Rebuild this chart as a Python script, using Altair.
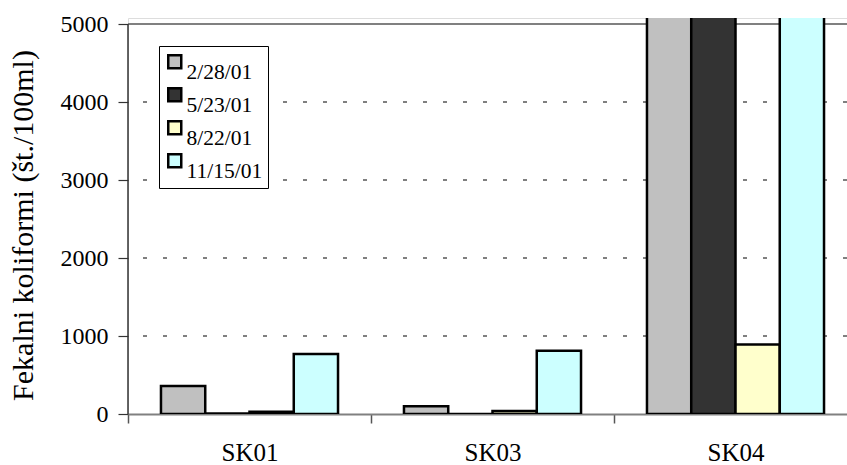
import altair as alt
import pandas as pd

# Sampling sites and campaign dates
sites = ["SK01", "SK03", "SK04"]
dates = ["2/28/01", "5/23/01", "8/22/01", "11/15/01"]
date_colors = ["#C0C0C0", "#333333", "#FFFFCC", "#CCFFFF"]

# Faecal coliform counts (per 100 ml) for each date, one list per site
sk01 = [360, 8, 30, 770]
sk03 = [100, 0, 40, 810]
sk04 = [9200, 13500, 890, 7800]

grid_levels = [1000, 2000, 3000, 4000]
y_ticks = [0, 1000, 2000, 3000, 4000, 5000]

rows = []
for site, vals in zip(sites, [sk01, sk03, sk04]):
    for d, v in zip(dates, vals):
        rows.append({"site": site, "date": d, "count": v})
df = pd.DataFrame(rows)

FONT = "Liberation Serif"
y_scale = alt.Scale(domain=[0, 5077], nice=False, zero=True)

grid = alt.Chart(pd.DataFrame({"level": grid_levels})).mark_rule(
    color="#000000", strokeDash=[4, 16], strokeWidth=1
).encode(y=alt.Y("level:Q", scale=y_scale, axis=None))

top_line = alt.Chart(pd.DataFrame({"level": [5000]})).mark_rule(
    color="#808080", strokeWidth=2
).encode(y=alt.Y("level:Q", scale=y_scale, axis=None))

bars = alt.Chart(df).mark_bar(stroke="black", strokeWidth=2.5, clip=True).encode(
    x=alt.X(
        "site:N",
        sort=sites,
        scale=alt.Scale(range=[0, 729], paddingInner=0, paddingOuter=0),
        axis=alt.Axis(
            title=None,
            tickBand="extent",
            tickSize=9,
            tickColor="#555555",
            tickWidth=1.5,
            domainColor="#808080",
            domainWidth=2,
            labelFont=FONT,
            labelFontSize=25,
            labelColor="black",
            labelPadding=17,
            labelAngle=0,
        ),
    ),
    xOffset=alt.XOffset(
        "date:N", sort=dates, scale=alt.Scale(paddingInner=0, paddingOuter=0.745)
    ),
    y=alt.Y(
        "count:Q",
        scale=y_scale,
        axis=alt.Axis(
            values=y_ticks,
            format="d",
            grid=False,
            domain=False,
            tickSize=10,
            tickColor="#333333",
            tickWidth=1.2,
            labelFont=FONT,
            labelFontSize=24,
            labelColor="black",
            labelPadding=10,
            title="Fekalni koliformi (št./100ml)",
            titleFont=FONT,
            titleFontSize=30,
            titleFontWeight="normal",
            titleColor="black",
            titleAngle=270,
            titleX=-96,
            titleY=207,
            titleAlign="center",
            titleBaseline="alphabetic",
        ),
    ),
    color=alt.Color(
        "date:N",
        sort=dates,
        scale=alt.Scale(domain=dates, range=date_colors),
        legend=alt.Legend(
            title=None,
            orient="none",
            legendX=31,
            legendY=28,
            symbolType="square",
            symbolSize=169,
            symbolStrokeColor="black",
            symbolStrokeWidth=2.5,
            symbolOpacity=1,
            labelFont=FONT,
            labelFontSize=21.5,
            labelColor="black",
            labelOffset=1,
            labelBaseline="top",
            rowPadding=-2.5,
            padding=5,
            strokeColor="black",
            fillColor="white",
        ),
    ),
)

y_axis_line = alt.Chart(pd.DataFrame({"a": [0], "b": [5000]})).mark_rule(
    color="#333333", strokeWidth=1.5
).encode(
    x=alt.value(0),
    y=alt.Y("a:Q", scale=y_scale, axis=None),
    y2="b:Q",
)

chart = (
    alt.layer(grid, top_line, bars, y_axis_line)
    .resolve_axis(y="independent")
    .properties(
        width=719,
        height=396,
        autosize=alt.AutoSizeParams(type="none"),
        padding={"left": 128, "top": 18, "right": 0, "bottom": 51},
    )
    .configure_view(stroke=None)
    .configure(background="white")
)

chart.save("out.html", embed_options={"renderer": "svg", "actions": False})
